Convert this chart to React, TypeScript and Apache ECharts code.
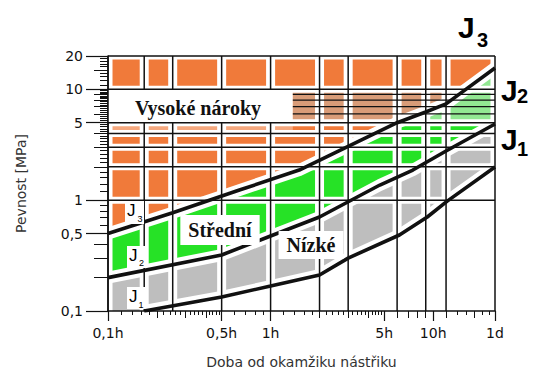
import React, { useEffect, useRef } from 'react';
import * as echarts from 'echarts';

// Boundary curves (hours, MPa)
const J3_X = [0.1, 0.25, 0.65, 1.5, 6, 9, 12, 24];
const J3_Y = [0.5, 0.77, 1.24, 1.87, 5.0, 6.25, 7.4, 15.6];
const J2_X = [0.1, 0.5, 1, 2, 4.7, 7.5, 12, 24];
const J2_Y = [0.2, 0.32, 0.475, 0.705, 1.37, 1.87, 2.78, 4.87];
const J1_X = [0.167, 0.5, 1, 2, 3, 6.2, 9.2, 12.2, 24];
const J1_Y = [0.1, 0.134, 0.168, 0.211, 0.3, 0.485, 0.705, 0.98, 1.99];

// Diagram grid lines
const GRID_X = [0.1, 0.167, 0.25, 0.5, 1, 2, 3, 6, 9, 12, 24];
const GRID_Y = [20, 10, 5, 4, 3, 2, 1];
const HATCH_Y = [9, 8, 7, 6];
const HATCH_X_START = 1.37;
const X_MIN = 0.1;
const X_MAX = 24;
const Y_MIN = 0.1;
const Y_MAX = 20;

// Axis ticks and labels
const X_LABEL_VALUES = [0.1, 0.5, 1, 5, 10, 24];
const X_LABELS = ['0,1h', '0,5h', '1h', '5h', '10h', '1d'];
const X_MID_TICKS = [0.2, 0.3, 0.4, 2, 3, 4, 6, 7, 8, 9, 12, 18];
const X_MINOR_TICKS = [0.12, 0.14, 0.16, 0.18, 0.22, 0.24, 0.26, 0.28, 0.32, 0.34, 0.36, 0.38, 0.42, 0.44, 0.46, 0.48, 0.6, 0.7, 0.8, 0.9, 1.2, 1.4, 1.6, 1.8, 2.2, 2.4, 2.6, 2.8, 3.2, 3.4, 3.6, 3.8, 4.2, 4.4, 4.6, 4.8, 14, 16, 20, 22];
const Y_LABEL_VALUES = [0.1, 0.5, 1, 5, 10, 20];
const Y_LABELS = ['0,1', '0,5', '1', '5', '10', '20'];
const Y_MID_TICKS = [0.2, 0.3, 0.4, 2, 3, 4, 6, 7, 8, 9, 15];
const Y_MINOR_TICKS = [0.6, 0.7, 0.8, 0.9, 1.2, 1.4, 1.6, 1.8, 2.2, 2.4, 2.6, 2.8, 3.2, 3.4, 3.6, 3.8, 4.2, 4.4, 4.6, 4.8, 5.25, 5.5, 5.75, 6.25, 6.5, 6.75, 7.25, 7.5, 7.75, 8.25, 8.5, 8.75, 9.25, 9.5, 9.75, 11, 12, 13, 14, 16, 17, 18, 19];

const ORANGE = '#F07A3A';
const BAND = '#D99C78';
const GREEN = '#26E226';
const LIGHT_GREEN = '#92E892';
const GRAY = '#BEBEBE';
const INK = '#111';

const pairs = (xs: number[], ys: number[]) => xs.map((x, i) => [x, ys[i]]);
const J3 = pairs(J3_X, J3_Y);
const J2 = pairs(J2_X, J2_Y);
const J1 = pairs(J1_X, J1_Y);

const fmt = (vals: number[], labels: string[]) => (v: number) => {
  const i = vals.findIndex((x) => Math.abs(x - v) / x < 1e-6);
  return i >= 0 ? labels[i] : '';
};

function renderBackground(_params: any, api: any) {
  const c = (p: number[]) => api.coord(p);
  const poly = (pts: number[][], fill: string) => ({ type: 'polygon', shape: { points: pts.map(c) }, style: { fill } });
  const seg = (a: number[], b: number[], stroke: string, lineWidth: number) => {
    const p = c(a);
    const q = c(b);
    return { type: 'line', shape: { x1: p[0], y1: p[1], x2: q[0], y2: q[1] }, style: { stroke, lineWidth } };
  };
  const pline = (pts: number[][], stroke: string, lineWidth: number) => ({
    type: 'polyline', shape: { points: pts.map(c) }, style: { stroke, lineWidth, fill: 'none', lineJoin: 'round' },
  });
  const children: any[] = [];
  children.push(poly([...J3, [X_MAX, Y_MAX], [X_MIN, Y_MAX]], ORANGE));
  children.push(poly([[HATCH_X_START, 5], [X_MAX, 5], [X_MAX, 10], [HATCH_X_START, 10]], BAND));
  children.push(poly([...J3, ...J2.slice().reverse()], GREEN));
  children.push(poly([...J3.filter((p) => p[0] >= 6), [X_MAX, 5]], LIGHT_GREEN));
  children.push(poly([...J2, ...J1.slice().reverse(), [X_MIN, Y_MIN]], GRAY));
  children.push(poly([[X_MIN, 4], [HATCH_X_START, 4], [HATCH_X_START, 5], [X_MIN, 5]], 'rgba(255,255,255,0.35)'));
  GRID_X.forEach((x) => children.push(seg([x, Y_MIN], [x, Y_MAX], '#fff', 9)));
  GRID_Y.forEach((y) => children.push(seg([X_MIN, y], [X_MAX, y], '#fff', 7)));
  [J1, J2, J3].forEach((pts) => children.push(pline(pts, '#fff', 12)));
  GRID_X.forEach((x) => children.push(seg([x, Y_MIN], [x, Y_MAX], INK, 1.5)));
  const b0 = c([X_MIN, 10]);
  const b1 = c([HATCH_X_START, 5]);
  children.push({ type: 'rect', shape: { x: b0[0], y: b0[1], width: b1[0] - b0[0], height: b1[1] - b0[1] }, style: { fill: '#fff' } });
  GRID_Y.forEach((y) => children.push(seg([X_MIN, y], [X_MAX, y], INK, 1.5)));
  HATCH_Y.forEach((y) => children.push(seg([HATCH_X_START, y], [X_MAX, y], INK, 1.2)));
  return { type: 'group', children };
}

const logX = (extra: any) => ({ type: 'log', logBase: 10, min: X_MIN, max: X_MAX, gridIndex: 0, position: 'bottom', splitLine: { show: false }, z: 10, ...extra });
const logY = (extra: any) => ({ type: 'log', logBase: 10, min: Y_MIN, max: Y_MAX, gridIndex: 0, position: 'left', splitLine: { show: false }, z: 10, ...extra });

const option: any = {
  animation: false,
  backgroundColor: '#fff',
  grid: { left: 108, right: 38, top: 56, bottom: 61, containLabel: false, outerBoundsMode: 'none' },
  xAxis: [
    logX({
      axisLine: { show: true, lineStyle: { color: INK, width: 1.5 } },
      axisTick: { show: true, length: 10, lineStyle: { color: INK, width: 1.2 }, customValues: X_LABEL_VALUES },
      axisLabel: { show: true, margin: 15, color: '#111', fontSize: 14, fontFamily: 'DejaVu Sans', customValues: X_LABEL_VALUES, formatter: fmt(X_LABEL_VALUES, X_LABELS) },
      name: 'Doba od okamžiku nástřiku', nameLocation: 'middle', nameGap: 44,
      nameTextStyle: { color: '#333', fontSize: 14, fontFamily: 'DejaVu Sans' },
    }),
    logX({ axisLine: { show: false }, axisLabel: { show: false }, axisTick: { show: true, length: 7, lineStyle: { color: INK, width: 1 }, customValues: X_MID_TICKS } }),
    logX({ axisLine: { show: false }, axisLabel: { show: false }, axisTick: { show: true, length: 4, lineStyle: { color: INK, width: 1 }, customValues: X_MINOR_TICKS } }),
  ],
  yAxis: [
    logY({
      axisLine: { show: true, lineStyle: { color: INK, width: 1.5 } },
      axisTick: { show: true, length: 22, lineStyle: { color: INK, width: 1.2 }, customValues: Y_LABEL_VALUES },
      axisLabel: { show: true, margin: 25, color: '#111', fontSize: 14, fontFamily: 'DejaVu Sans', customValues: Y_LABEL_VALUES, formatter: fmt(Y_LABEL_VALUES, Y_LABELS) },
      name: 'Pevnost [MPa]', nameLocation: 'middle', nameGap: 80,
      nameTextStyle: { color: '#333', fontSize: 14, fontFamily: 'DejaVu Sans' },
    }),
    logY({ axisLine: { show: false }, axisLabel: { show: false }, axisTick: { show: true, length: 14, lineStyle: { color: INK, width: 1 }, customValues: Y_MID_TICKS } }),
    logY({ axisLine: { show: false }, axisLabel: { show: false }, axisTick: { show: true, length: 8, lineStyle: { color: INK, width: 1 }, customValues: Y_MINOR_TICKS } }),
  ],
  series: [
    { type: 'custom', name: 'zones', xAxisIndex: 0, yAxisIndex: 0, data: [[1, 1]], encode: { x: 0, y: 1 }, renderItem: renderBackground, silent: true, clip: false, z: 1 },
    { type: 'line', name: 'J3', data: J3, symbol: 'none', lineStyle: { color: INK, width: 3.6 }, z: 5, silent: true },
    { type: 'line', name: 'J2', data: J2, symbol: 'none', lineStyle: { color: INK, width: 3.6 }, z: 5, silent: true },
    { type: 'line', name: 'J1', data: J1, symbol: 'none', lineStyle: { color: INK, width: 3.6 }, z: 5, silent: true },
  ],
  graphic: [
    { type: 'text', z: 100, x: 198, y: 108, style: { text: 'Vysoké nároky', font: 'bold 20px "Liberation Serif"', fill: '#111', align: 'center', verticalAlign: 'middle' } },
    { type: 'text', z: 100, x: 220, y: 230, style: { text: 'Střední', font: 'bold 20px "Liberation Serif"', fill: '#111', align: 'center', verticalAlign: 'middle', backgroundColor: '#fff', padding: [5, 8] } },
    { type: 'text', z: 100, x: 311, y: 245, style: { text: 'Nízké', font: 'bold 20px "Liberation Serif"', fill: '#111', align: 'center', verticalAlign: 'middle', backgroundColor: '#fff', padding: [4, 8] } },
    { type: 'rect', z: 99, shape: { x: 125, y: 201, width: 19, height: 23 }, style: { fill: '#fff' } },
    { type: 'rect', z: 99, shape: { x: 127, y: 246, width: 18, height: 22 }, style: { fill: '#fff' } },
    { type: 'rect', z: 99, shape: { x: 127, y: 287, width: 18, height: 22 }, style: { fill: '#fff' } },
    { type: 'text', z: 100, x: 127, y: 210, style: { text: 'J', font: '17px "Liberation Sans"', fill: '#000', align: 'left', verticalAlign: 'middle' } },
    { type: 'text', z: 100, x: 137.5, y: 219, style: { text: '3', font: '9px "Liberation Sans"', fill: '#000', align: 'left', verticalAlign: 'middle' } },
    { type: 'text', z: 100, x: 129, y: 255, style: { text: 'J', font: '17px "Liberation Sans"', fill: '#000', align: 'left', verticalAlign: 'middle' } },
    { type: 'text', z: 100, x: 139, y: 263, style: { text: '2', font: '9px "Liberation Sans"', fill: '#000', align: 'left', verticalAlign: 'middle' } },
    { type: 'text', z: 100, x: 129, y: 296, style: { text: 'J', font: '17px "Liberation Sans"', fill: '#000', align: 'left', verticalAlign: 'middle' } },
    { type: 'text', z: 100, x: 138.5, y: 305, style: { text: '1', font: '9px "Liberation Sans"', fill: '#000', align: 'left', verticalAlign: 'middle' } },
    { type: 'text', z: 100, x: 458, y: 27.5, style: { text: 'J', font: 'bold 30px "Liberation Sans"', fill: '#000', align: 'left', verticalAlign: 'middle' } },
    { type: 'text', z: 100, x: 477, y: 40, style: { text: '3', font: 'bold 20px "Liberation Sans"', fill: '#000', align: 'left', verticalAlign: 'middle' } },
    { type: 'text', z: 100, x: 501, y: 90, style: { text: 'J', font: 'bold 30px "Liberation Sans"', fill: '#000', align: 'left', verticalAlign: 'middle' } },
    { type: 'text', z: 100, x: 517, y: 96, style: { text: '2', font: 'bold 20px "Liberation Sans"', fill: '#000', align: 'left', verticalAlign: 'middle' } },
    { type: 'text', z: 100, x: 501, y: 139, style: { text: 'J', font: 'bold 30px "Liberation Sans"', fill: '#000', align: 'left', verticalAlign: 'middle' } },
    { type: 'text', z: 100, x: 517, y: 149, style: { text: '1', font: 'bold 20px "Liberation Sans"', fill: '#000', align: 'left', verticalAlign: 'middle' } },
  ],
};

export default function App() {
  const ref = useRef<HTMLDivElement>(null);
  useEffect(() => {
    const chart = echarts.init(ref.current!, null, { renderer: 'svg' });
    chart.setOption(option);
    return () => chart.dispose();
  }, []);
  return <div ref={ref} style={{ position: 'fixed', left: 0, top: 0, width: 533, height: 372, background: '#fff' }} />;
}
